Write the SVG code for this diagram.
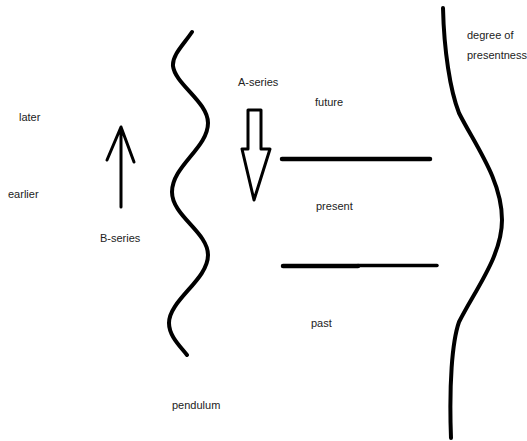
<svg xmlns="http://www.w3.org/2000/svg" width="527" height="441" viewBox="0 0 527 441">
<style>
text{font-family:"Liberation Sans",Arial,sans-serif;font-size:11px;fill:#222}
.ln{fill:none;stroke:#000;stroke-linecap:round;stroke-linejoin:round}
</style>
<rect width="527" height="441" fill="#fff"/>
<g id="labels">
<text x="19" y="121">later</text>
<text x="8" y="198">earlier</text>
<text x="100" y="242">B-series</text>
<text x="238" y="86">A-series</text>
<text x="315" y="106">future</text>
<text x="316" y="210">present</text>
<text x="311" y="327">past</text>
<text x="467" y="39">degree of</text>
<text x="467" y="59">presentness</text>
<text x="172" y="409">pendulum</text>
</g>
<g id="pendulum">
<path class="ln" stroke-width="4" d="M192,32 C184,44 172,55 173,66 C175,84 208,102 208,123 C208,148 172,166 172,192 C172,216 208,232 208,255 C208,280 169,300 169,323 C169,336 180,346 187,355"/>
</g>
<g id="b-series-arrow">
<path class="ln" stroke-width="3" d="M121,207 V127 M107,160 L121,127 L134,162"/>
</g>
<g id="a-series-arrow">
<polygon class="ln" stroke-width="3" fill="#fff" points="248,110 261,110 261,149 270,149 254,200 242,149 248,149"/>
</g>
<g id="boundaries">
<path class="ln" stroke-width="4.5" d="M282,159 H430"/>
<path class="ln" stroke-width="4.5" d="M283,266 H358"/>
<path class="ln" stroke-width="3.5" d="M358,265.5 H437"/>
</g>
<g id="presentness-curve">
<path class="ln" stroke-width="4" d="M443,8 C444,50 450,90 459,113 C475,145 502,180 502,220 C502,256 475,290 459,322 C452,342 449,385 451,438"/>
</g>
</svg>
